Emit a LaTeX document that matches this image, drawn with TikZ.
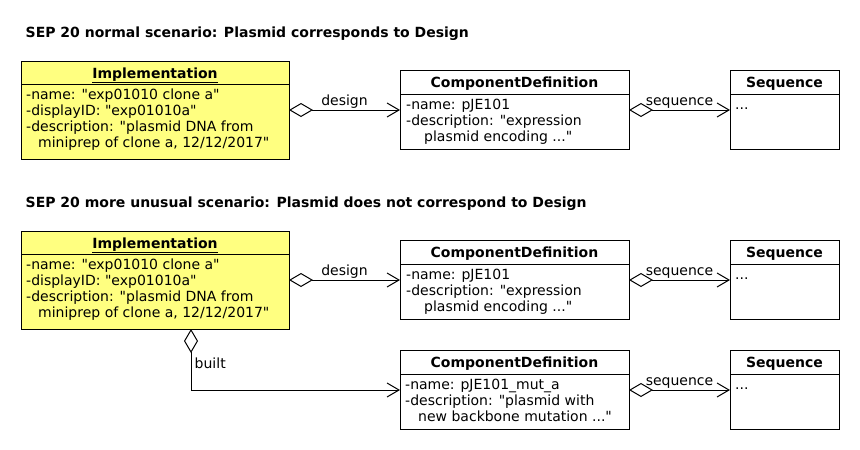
\documentclass[tikz,border=0pt]{standalone}
\usepackage{fontspec}
\setmainfont{DejaVu Sans}[Ligatures=TeXOff]
\usetikzlibrary{arrows.meta,calc}
\definecolor{implyellow}{RGB}{255,255,128}
\begin{document}
\begin{tikzpicture}[x=1pt,y=-1pt,
  font=\fontsize{14}{16}\selectfont,
  boxhead/.style={draw, line width=1pt, anchor=north west, inner sep=0pt, outer sep=0pt, text height=12pt, text depth=1pt, font=\fontsize{14}{16}\selectfont\bfseries},
  boxbody/.style={draw, line width=1pt, anchor=north west, inner sep=0pt, outer sep=0pt},
  attrs/.style={anchor=north west, inner sep=0pt, align=left},
  titletext/.style={anchor=base west, inner sep=0pt, font=\fontsize{14}{16}\selectfont\bfseries},
  aggr/.style={line width=1pt, {Diamond[length=24pt,width=14pt,fill=white]}-{Straight Barb[length=12pt,width=14pt]}},
  lbl/.style={inner sep=1.5pt, font=\fontsize{14}{16}\selectfont}
]
\useasboundingbox[fill=white] (0,0) rectangle (860,450);

% ---------- titles ----------
\node[titletext] (t1) at (25.5,37.5) {SEP 20 normal scenario: Plasmid corresponds to Design};
\node[titletext] (t2) at (25.5,207.5) {SEP 20 more unusual scenario: Plasmid does not correspond to Design};

% ---------- scenario 1 ----------
\node[boxhead, fill=implyellow, minimum width=268pt, minimum height=23pt] (i1h) at (21,61) {\underline{Implementation}};
\node[boxbody, fill=implyellow, minimum width=268pt, minimum height=75pt] (i1b) at (i1h.south west) {};
\node[attrs] (i1t) at ($(i1b.north west)+(5,3)$) {\rule{0pt}{12pt}-name: "exp01010 clone a"\\-displayID: "exp01010a"\\-description: "plasmid DNA from\\\hspace*{12pt}miniprep of clone a, 12/12/2017"};

\node[boxhead, minimum width=229pt, minimum height=24pt] (c1h) at (400,70) {ComponentDefinition};
\node[boxbody, minimum width=229pt, minimum height=55pt] (c1b) at (c1h.south west) {};
\node[attrs] (c1t) at ($(c1b.north west)+(6,3)$) {\rule{0pt}{12pt}-name: pJE101\\-description: "expression\\\hspace*{18pt}plasmid encoding ..."};

\node[boxhead, minimum width=109pt, minimum height=24pt] (s1h) at (730,70) {Sequence};
\node[boxbody, minimum width=109pt, minimum height=55pt] (s1b) at (s1h.south west) {};
\node[attrs] (s1t) at ($(s1b.north west)+(5,3)$) {\rule{0pt}{12pt}...};

\path ($(c1b.north west)+(0,16)$) coordinate (a1);
\draw[aggr] (i1b.east |- a1) -- node[lbl, above] (l1) {design} (a1);
\path ($(s1b.north west)+(0,16)$) coordinate (a2);
\draw[aggr] (c1b.east |- a2) -- node[lbl, above] (l2) {sequence} (a2);

% ---------- scenario 2 ----------
\node[boxhead, fill=implyellow, minimum width=268pt, minimum height=23pt] (i2h) at (21,231) {\underline{Implementation}};
\node[boxbody, fill=implyellow, minimum width=268pt, minimum height=75pt] (i2b) at (i2h.south west) {};
\node[attrs] (i2t) at ($(i2b.north west)+(5,3)$) {\rule{0pt}{12pt}-name: "exp01010 clone a"\\-displayID: "exp01010a"\\-description: "plasmid DNA from\\\hspace*{12pt}miniprep of clone a, 12/12/2017"};

\node[boxhead, minimum width=229pt, minimum height=24pt] (c2h) at (400,240) {ComponentDefinition};
\node[boxbody, minimum width=229pt, minimum height=55pt] (c2b) at (c2h.south west) {};
\node[attrs] (c2t) at ($(c2b.north west)+(6,3)$) {\rule{0pt}{12pt}-name: pJE101\\-description: "expression\\\hspace*{18pt}plasmid encoding ..."};

\node[boxhead, minimum width=109pt, minimum height=24pt] (s2h) at (730,240) {Sequence};
\node[boxbody, minimum width=109pt, minimum height=55pt] (s2b) at (s2h.south west) {};
\node[attrs] (s2t) at ($(s2b.north west)+(5,3)$) {\rule{0pt}{12pt}...};

\node[boxhead, minimum width=229pt, minimum height=24pt] (c3h) at (400,350) {ComponentDefinition};
\node[boxbody, minimum width=229pt, minimum height=55pt] (c3b) at (c3h.south west) {};
\node[attrs] (c3t) at ($(c3b.north west)+(5,3)$) {\rule{0pt}{12pt}-name: pJE101\_mut\_a\\-description: "plasmid with\\\hspace*{13pt}new backbone mutation ..."};

\node[boxhead, minimum width=109pt, minimum height=24pt] (s3h) at (730,350) {Sequence};
\node[boxbody, minimum width=109pt, minimum height=55pt] (s3b) at (s3h.south west) {};
\node[attrs] (s3t) at ($(s3b.north west)+(5,3)$) {\rule{0pt}{12pt}...};

\path ($(c2b.north west)+(0,16)$) coordinate (a3);
\draw[aggr] (i2b.east |- a3) -- node[lbl, above] (l3) {design} (a3);
\path ($(s2b.north west)+(0,16)$) coordinate (a4);
\draw[aggr] (c2b.east |- a4) -- node[lbl, above] (l4) {sequence} (a4);
\path ($(s3b.north west)+(0,16)$) coordinate (a5);
\draw[aggr] (c3b.east |- a5) -- node[lbl, above] (l5) {sequence} (a5);

\path ($(i2b.south west)+(170,0)$) coordinate (b0);
\path ($(c3b.north west)+(0,16)$) coordinate (a6);
\draw[aggr] (b0) |- (a6);
\node[lbl, anchor=base west] (l6) at ($(b0)+(2,39)$) {built};
\end{tikzpicture}
\end{document}
